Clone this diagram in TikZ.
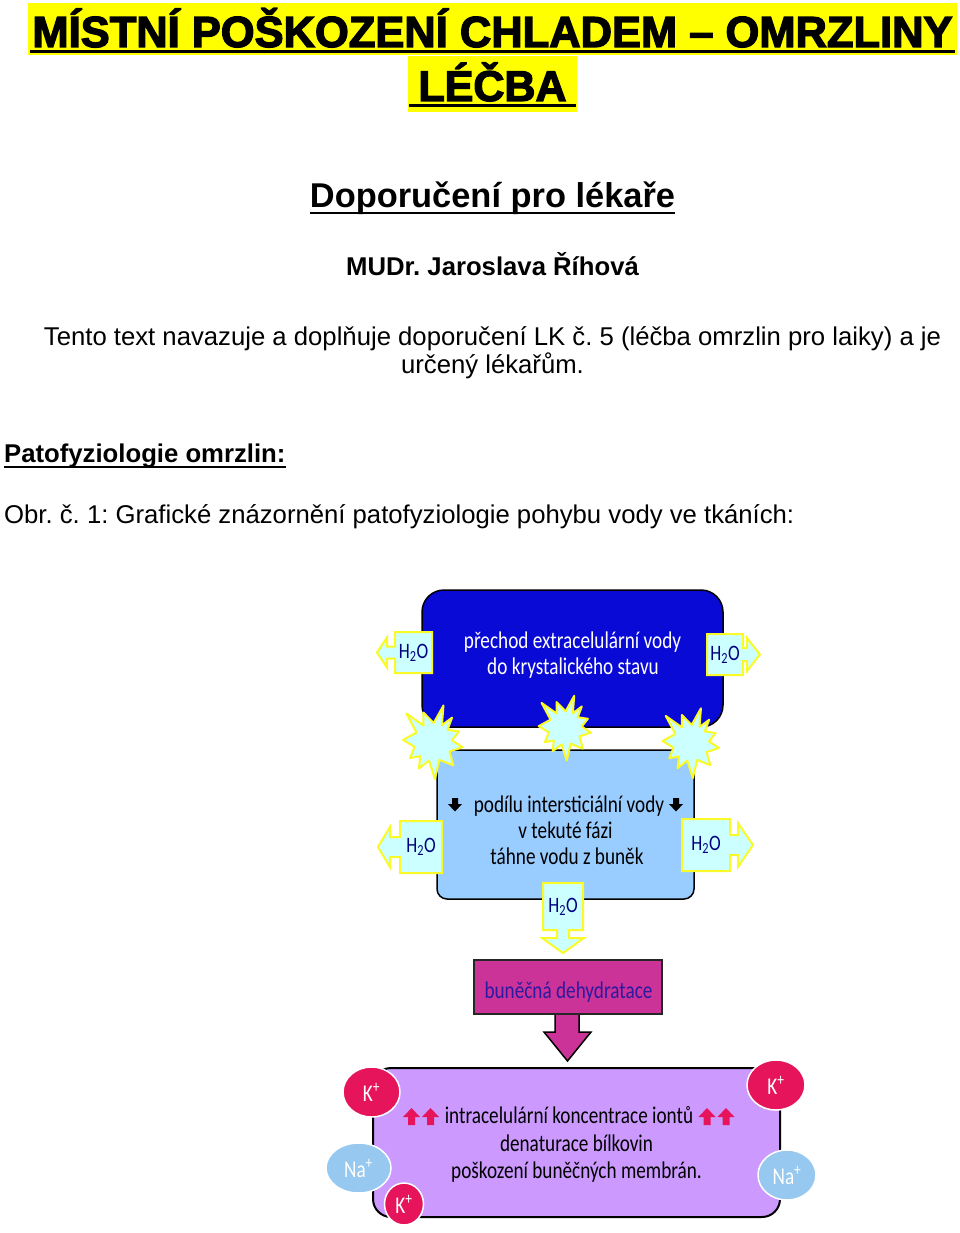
\documentclass[tikz,border=0pt]{standalone}
\usepackage{fontspec}
\setmainfont{Liberation Sans}
\newfontfamily\dfont[FakeStretch=0.8]{Carlito}
\newfontfamily\heavyfont[BoldFeatures={FakeBold=3}]{Liberation Sans}
\usetikzlibrary{shapes.geometric}
\frenchspacing
\definecolor{yel}{RGB}{255,255,0}
\definecolor{dblue}{RGB}{10,10,215}
\definecolor{lblue}{RGB}{153,204,255}
\definecolor{cyanl}{RGB}{204,255,255}
\definecolor{starline}{RGB}{250,250,40}
\definecolor{mag}{RGB}{204,51,153}
\definecolor{mtext}{RGB}{45,25,160}
\definecolor{purp}{RGB}{204,153,255}
\definecolor{kred}{RGB}{230,20,90}
\definecolor{nablue}{RGB}{150,200,240}
\definecolor{navy}{RGB}{0,0,128}
\tikzset{
  txt/.style={inner sep=0pt, anchor=base},
  body/.style={txt, font=\fontsize{25.7}{30}\selectfont},
  bodyb/.style={txt, font=\bfseries\fontsize{25.7}{30}\selectfont},
  dtxt/.style={txt, font=\dfont\fontsize{24}{28}\selectfont},
  harr/.style={fill=cyanl, draw=starline, line width=2pt, line join=miter},
  hlab/.style={inner sep=0pt, font=\dfont\fontsize{22}{24}\selectfont, text=navy},
  starsty/.style={fill=cyanl, draw=starline, line width=2pt, line join=round},
  ion/.style={ellipse, draw=white, line width=1.5pt, inner sep=0pt, text=white, font=\dfont\fontsize{24}{26}\selectfont},
}
\newcommand{\mystar}[3]{%
  \begin{scope}[shift={(#1,#2)}, scale=#3]
    \draw[starsty] (74:38pt) -- (88:19pt) -- (108:31pt) -- (120:19pt) -- (133:39pt) -- (150:19pt)
      -- (176:30pt) -- (195:19pt) -- (215:28pt) -- (228:19pt) -- (242:30pt) -- (258:19pt)
      -- (273:37pt) -- (290:19pt) -- (311:31pt) -- (330:19pt) -- (350:30pt) -- (5:19pt)
      -- (22:28pt) -- (40:19pt) -- (52:31pt) -- (62:19pt) -- cycle;
  \end{scope}}
% bold arrows (Wingdings-like)
\newcommand{\uparr}[3]{\fill[#3] (#1-3.5,#2) -- (#1-3.5,#2-8) -- (#1-8.5,#2-8) -- (#1,#2-17) -- (#1+8.5,#2-8) -- (#1+3.5,#2-8) -- (#1+3.5,#2) -- cycle;}
\newcommand{\dnarr}[3]{\fill[#3] (#1-3,#2) -- (#1-3,#2+6) -- (#1-7,#2+6) -- (#1,#2+13.5) -- (#1+7,#2+6) -- (#1+3,#2+6) -- (#1+3,#2) -- cycle;}
\newcommand{\Hdwo}{H\textsubscript{2}O}
\begin{document}
\begin{tikzpicture}[x=1pt,y=-1pt]
\useasboundingbox[fill=white] (0,0) rectangle (960,1233);

% ---------- title ----------
\fill[yel] (28,3) rectangle (957,55);
\fill[yel] (408,56) rectangle (577,112);
\node[txt] (t1) at (492.5,47) {\resizebox{920pt}{!}{\heavyfont\bfseries\fontsize{44}{50}\selectfont MÍSTNÍ POŠKOZENÍ CHLADEM – OMRZLINY}};
\node[txt] (t2) at (492.5,101) {\heavyfont\bfseries\fontsize{43}{50}\selectfont LÉČBA};
\draw[line width=3pt] (30,51.5) -- (955,51.5);
\draw[line width=3pt] (409,105.5) -- (576,105.5);

\node[txt, font=\bfseries\fontsize{34.4}{40}\selectfont] (t3) at (492.5,208) {Doporučení pro lékaře};
\draw[line width=2pt] (310,213) -- (675,213);
\node[bodyb] (t4) at (492.5,275) {MUDr. Jaroslava Říhová};
\node[body] (t5) at (492.5,345) {Tento text navazuje a doplňuje doporučení LK č. 5 (léčba omrzlin pro laiky) a je};
\node[body] (t6) at (492.5,373) {určený lékařům.};
\node[bodyb, anchor=base west] (t7) at (4,462) {Patofyziologie omrzlin:};
\draw[line width=2pt] (4,467) -- (286,467);
\node[body, anchor=base west] (t8) at (4,523) {Obr. č. 1: Grafické znázornění patofyziologie pohybu vody ve tkáních:};

% ---------- diagram boxes ----------
\draw[fill=dblue, line width=1.5pt, rounded corners=22pt] (422,590) rectangle (723,727);
\draw[fill=lblue, line width=1.5pt, rounded corners=10pt] (437,750) rectangle (694,899);

\node[dtxt, text=white] (b1) at (572.5,648) {přechod extracelulární vody};
\node[dtxt, text=white] (b2) at (573,674) {do krystalického stavu};

\node[dtxt] (l1) at (569,812) {podílu intersticiální vody};
\dnarr{455}{798}{black}
\dnarr{676}{798}{black}
\node[dtxt] (l2) at (565.5,838) {v tekuté fázi};
\node[dtxt] (l3) at (567,864) {táhne vodu z buněk};

% stars
\mystar{433}{742}{1}
\mystar{565}{728}{0.88}
\mystar{691}{743}{0.95}

% H2O arrows
\draw[harr] (432,632) -- (395,632) -- (395,646.5) -- (387,646.5) -- (387,637.5) -- (377,652.5) -- (387,667.5) -- (387,658.5) -- (395,658.5) -- (395,673) -- (432,673) -- cycle;
\node[hlab] (h1) at (413.5,652.5) {\Hdwo};
\draw[harr] (707,634) -- (743,634) -- (743,648) -- (747,648) -- (747,638) -- (760,654.5) -- (747,671) -- (747,661) -- (743,661) -- (743,675) -- (707,675) -- cycle;
\node[hlab] (h2) at (725,654.5) {\Hdwo};
\draw[harr] (442,821) -- (400,821) -- (400,837) -- (390,837) -- (390,827) -- (378,847) -- (390,867) -- (390,857) -- (400,857) -- (400,873) -- (442,873) -- cycle;
\node[hlab] (h3) at (421,847) {\Hdwo};
\draw[harr] (682,819) -- (730,819) -- (730,835) -- (738,835) -- (738,823) -- (753,845) -- (738,867) -- (738,855) -- (730,855) -- (730,871) -- (682,871) -- cycle;
\node[hlab] (h4) at (706,845) {\Hdwo};
\draw[harr] (543,883) -- (583,883) -- (583,930) -- (569,930) -- (569,938) -- (584,938) -- (563,953) -- (542,938) -- (557,938) -- (557,930) -- (543,930) -- cycle;
\node[hlab] (h5) at (563,907) {\Hdwo};

% magenta box and arrow
\draw[fill=mag, line width=1.5pt, line join=miter] (555,1013) -- (555,1032) -- (544,1032) -- (567.5,1061) -- (591,1032) -- (579,1032) -- (579,1013);
\draw[fill=mag, line width=1.5pt, draw=black!85] (474,960) rectangle (662,1014);
\node[dtxt, text=mtext] (m1) at (568.5,998) {buněčná dehydratace};

% purple box
\draw[fill=purp, line width=2pt, rounded corners=18pt] (373,1068) rectangle (780,1217);
\node[dtxt] (p1) at (569,1123) {intracelulární koncentrace iontů};
\uparr{411.5}{1125}{kred}
\uparr{430.5}{1125}{kred}
\uparr{707}{1125}{kred}
\uparr{726}{1125}{kred}
\node[dtxt] (p2) at (576.5,1151) {denaturace bílkovin};
\node[dtxt] (p3) at (576.5,1178) {poškození buněčných membrán.};

% ions
\node[ion, fill=kred, minimum width=57pt, minimum height=50pt] (k1) at (371.5,1092) {K\textsuperscript{+}};
\node[ion, fill=nablue, minimum width=65pt, minimum height=50pt] (n1) at (358.5,1168) {Na\textsuperscript{+}};
\node[ion, fill=kred, minimum width=39pt, minimum height=42pt] (k2) at (404,1204) {K\textsuperscript{+}};
\node[ion, fill=kred, minimum width=58pt, minimum height=50pt] (k3) at (776,1085) {K\textsuperscript{+}};
\node[ion, fill=nablue, minimum width=58pt, minimum height=50pt] (n2) at (787,1175) {Na\textsuperscript{+}};
\end{tikzpicture}
\end{document}
